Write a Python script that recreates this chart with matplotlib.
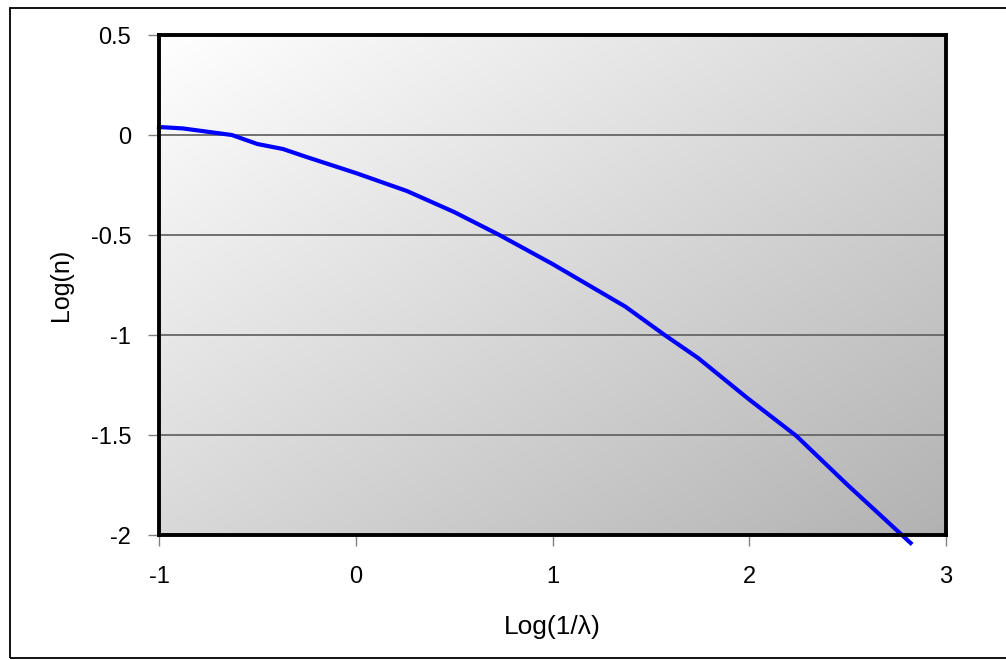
import numpy as np
import matplotlib
matplotlib.use("Agg")
import matplotlib.pyplot as plt
from matplotlib.patches import Rectangle

# Data
log_inv_lambda = [-1.0, -0.88, -0.63, -0.5, -0.37, -0.25, 0.0, 0.26, 0.5, 0.73,
                  1.0, 1.37, 1.57, 1.74, 1.99, 2.24, 2.5, 2.82]
log_n = [0.04, 0.033, 0.0, -0.045, -0.07, -0.11, -0.19, -0.28, -0.385, -0.5,
         -0.645, -0.858, -1.0, -1.115, -1.315, -1.505, -1.75, -2.04]

x_ticks = [-1, 0, 1, 2, 3]
y_ticks = [0.5, 0, -0.5, -1, -1.5, -2]
x_label = "Log(1/λ)"
y_label = "Log(n)"

plt.rcParams['font.family'] = ['Liberation Sans', 'DejaVu Sans']

W, H = 1006, 660
fig = plt.figure(figsize=(W / 100, H / 100), dpi=100)

# outer frame
fig.patches.append(Rectangle((10 / W, 1 - 658 / H), (1010 - 10) / W, (658 - 8) / H,
                             transform=fig.transFigure, fill=False,
                             edgecolor='black', linewidth=1.3, zorder=0))

left, right, top, bottom = 159, 946, 35, 535
ax = fig.add_axes([left / W, 1 - bottom / H, (right - left) / W, (bottom - top) / H])

# diagonal gradient background
n = 256
u = np.linspace(0, 1, n)
U, V = np.meshgrid(u, u)  # V: 0 at top row
t = (U + V) / 2
grey = 1.0 - (77 / 255) * t
img = np.dstack([grey, grey, grey])
ax.imshow(img, extent=[0, 1, 0, 1], transform=ax.transAxes, aspect='auto',
          zorder=0, interpolation='bilinear')

ax.set_xlim(-1, 3)
ax.set_ylim(-2, 0.5)

for yv in y_ticks:
    if -2 < yv < 0.5:
        ax.axhline(yv, color='#666666', linewidth=1.3, zorder=1)

ax.plot(log_inv_lambda, log_n, color='#0000ff', linewidth=3.0, clip_on=False,
        zorder=3, solid_joinstyle='round')

ax.set_xticks(x_ticks)
ax.set_yticks(y_ticks)
ax.set_xticklabels([str(v) for v in x_ticks])
ax.set_yticklabels(['0.5', '0', '-0.5', '-1', '-1.5', '-2'])
ax.tick_params(axis='both', direction='out', length=8, width=1.0, color='#808080',
               labelsize=17)
ax.tick_params(axis='x', pad=14)
ax.tick_params(axis='y', pad=12)

for s in ax.spines.values():
    s.set_linewidth(2.8)
    s.set_color('black')
    s.set_zorder(4)

ax.set_xlabel(x_label, fontsize=19, labelpad=20)
ax.set_ylabel(y_label, fontsize=18, labelpad=13)

fig.savefig("out.png", dpi=100)
